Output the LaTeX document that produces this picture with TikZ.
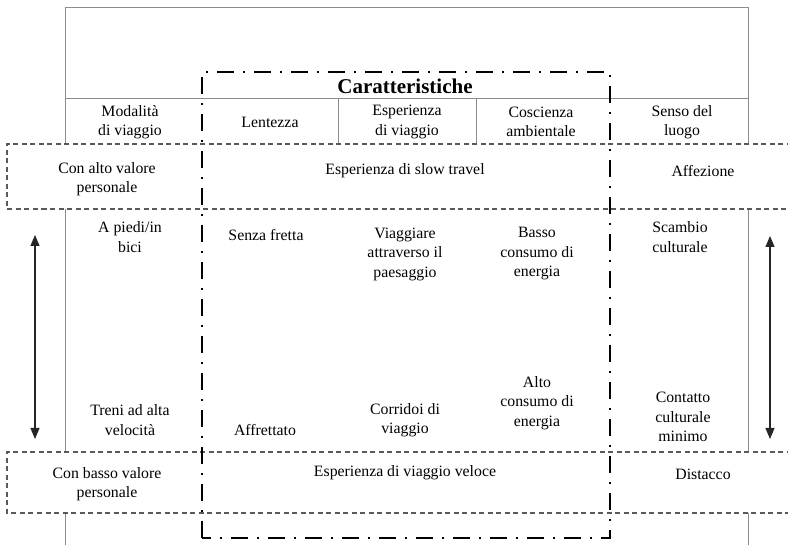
\documentclass[tikz,border=0pt]{standalone}
\usepackage{fontspec}
\setmainfont{Liberation Serif}
\usetikzlibrary{arrows.meta}
\begin{document}
\begin{tikzpicture}[x=1pt,y=-1pt,
  frame/.style={draw=black!45, line width=1pt},
  band/.style={draw=black!65, line width=1.2pt, dash pattern=on 5pt off 3.5pt, fill=white},
  core/.style={draw=black, line width=2.3pt, dash pattern=on 17pt off 9pt on 2pt off 9pt},
  lbl/.style={align=center, inner sep=0pt, font=\fontsize{15.8}{19.5}\selectfont},
  title/.style={inner sep=0pt, font=\fontsize{21}{24}\selectfont\bfseries},
  rangearrow/.style={{Triangle[length=11pt,width=9pt]}-{Triangle[length=11pt,width=9pt]}, line width=1.2pt, draw=black!85}]
\useasboundingbox (0,0) rectangle (788,545);
\clip (0,0) rectangle (788,545);

% outer table frame
\draw[frame] (65,560) -- (65,8) -- (748,8) -- (748,560);
\draw[frame] (65,99) -- (748,99);
\draw[frame] (338,99) -- (338,144);
\draw[frame] (476,99) -- (476,144);

% horizontal value bands, open to the right
\draw[band] (800,144) -- (7,144) -- (7,209) -- (800,209);
\draw[band] (800,452) -- (7,452) -- (7,513) -- (800,513);

% characteristics block
\draw[core] (202,538) -- (202,72) -- (610,72) -- (610,538) -- cycle;

% header
\node[title] (car) at (405,86) {Caratteristiche};
\node[lbl] (mod) at (130,122) {Modalità\\di viaggio};
\node[lbl] (len) at (270,122) {Lentezza};
\node[lbl] (esp) at (407,122) {Esperienza\\di viaggio};
\node[lbl] (cos) at (541,122) {Coscienza\\ambientale};
\node[lbl] (sen) at (682,122) {Senso del\\luogo};

% high personal value band
\node[lbl] (alto) at (107,179) {Con alto valore\\personale};
\node[lbl] (slow) at (405,171) {Esperienza di slow travel};
\node[lbl] (aff) at (703,171) {Affezione};

% slow end
\node[lbl] (piedi) at (130,237) {A piedi/in\\bici};
\node[lbl] (senza) at (266,235) {Senza fretta};
\node[lbl] (paes) at (405,254) {Viaggiare\\attraverso il\\paesaggio};
\node[lbl] (basso) at (537,254) {Basso\\consumo di\\energia};
\node[lbl] (scamb) at (680,237) {Scambio\\culturale};

% fast end
\node[lbl] (treni) at (130,420) {Treni ad alta\\velocità};
\node[lbl] (affr) at (265,430) {Affrettato};
\node[lbl] (corr) at (405,420) {Corridoi di\\viaggio};
\node[lbl] (altoc) at (537,403) {Alto\\consumo di\\energia};
\node[lbl] (cont) at (683,417) {Contatto\\culturale\\minimo};

% low personal value band
\node[lbl] (bassov) at (107,484) {Con basso valore\\personale};
\node[lbl] (veloce) at (405,473) {Esperienza di viaggio veloce};
\node[lbl] (dist) at (703,474) {Distacco};

% continuum arrows
\coordinate (la) at (35,235);
\coordinate (lb) at (35,439);
\coordinate (ra) at (770,236);
\coordinate (rb) at (770,439);
\draw[rangearrow] (la) -- (lb);
\draw[rangearrow] (ra) -- (rb);
\end{tikzpicture}
\end{document}
